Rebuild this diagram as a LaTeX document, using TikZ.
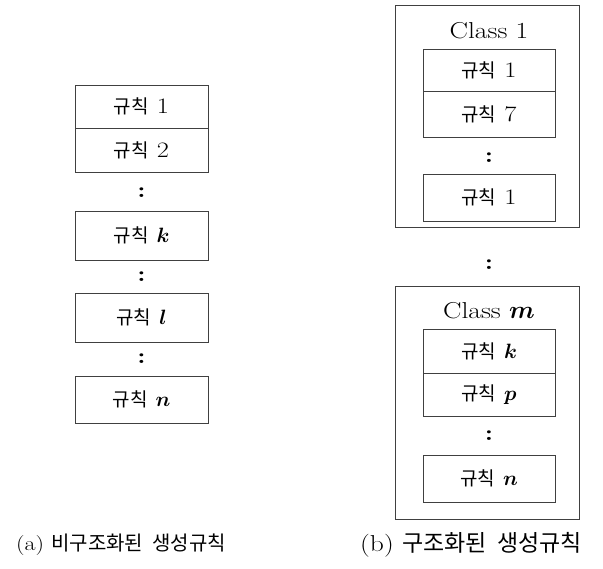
\documentclass[tikz,border=0pt]{standalone}
\usepackage{fontspec}
\setmainfont[FakeStretch=1.2]{Latin Modern Roman}
\newfontfamily\kr{Noto Sans CJK KR}
\begin{document}
\begin{tikzpicture}[x=1pt,y=-1pt,
  line/.style={draw=black!75,line width=0.7pt},
  rule/.style={line,minimum width=133pt,inner sep=0pt,font=\fontsize{22}{24}\selectfont},
  outer/.style={line,minimum width=184pt,inner sep=0pt},
  dots/.style={inner sep=0pt,font=\fontsize{22}{24}\bfseries\selectfont},
  cls/.style={inner sep=0pt,font=\fontsize{23}{26}\selectfont},
  captext/.style={inner sep=0pt,font=\fontsize{20}{22}\selectfont}]
\useasboundingbox (0,0) rectangle (603,569);
\newcommand{\gk}{{\kr\fontsize{19}{22}\selectfont 규칙}\ }
\newcommand{\mi}[1]{{\boldmath$#1$}}
% left column
\node[rule,minimum height=43pt] (r1) at (141.5,106.5) {\gk 1};
\node[rule,minimum height=44pt] (r2) at (141.5,150) {\gk 2};
\node[dots] (d1) at (141.5,193) {:};
\node[rule,minimum height=49pt] (rk) at (141.5,235.5) {\gk \mi{k}};
\node[dots] (d2) at (141.5,277) {:};
\node[rule,minimum height=49pt] (rl) at (141.5,317.5) {\gk \mi{l}};
\node[dots] (d3) at (141.5,359) {:};
\node[rule,minimum height=47pt] (rn) at (141.5,399.5) {\gk \mi{n}};
% right column, class 1
\node[outer,minimum height=222pt] (c1) at (487,116) {};
\node[cls] (c1t) at (489,31) {Class 1};
\node[rule,minimum width=132pt,minimum height=42pt] (a1) at (489,70) {\gk 1};
\node[rule,minimum width=132pt,minimum height=46pt] (a2) at (489,114) {\gk 7};
\node[dots] (ad) at (489,158) {:};
\node[rule,minimum width=132pt,minimum height=47pt] (a3) at (489,197.5) {\gk 1};
\node[dots] (md) at (489,265) {:};
% class m
\node[outer,minimum height=233pt] (c2) at (487,402.5) {};
\node[cls] (c2t) at (489,311) {Class \mi{m}};
\node[rule,minimum width=132pt,minimum height=44pt] (b1) at (489,351) {\gk \mi{k}};
\node[rule,minimum width=132pt,minimum height=43pt] (b2) at (489,394.5) {\gk \mi{p}};
\node[dots] (bd) at (489,436) {:};
\node[rule,minimum width=132pt,minimum height=47pt] (b3) at (489,478.5) {\gk \mi{n}};
% captions
\node[captext] (capa) at (121,545) {(a)\ {\kr 비구조화된\ \ 생성규칙}};
\node[captext,font=\fontsize{23}{25}\selectfont] (capb) at (471,545) {(b)\ {\kr 구조화된\ \ 생성규칙}};
\end{tikzpicture}
\end{document}
